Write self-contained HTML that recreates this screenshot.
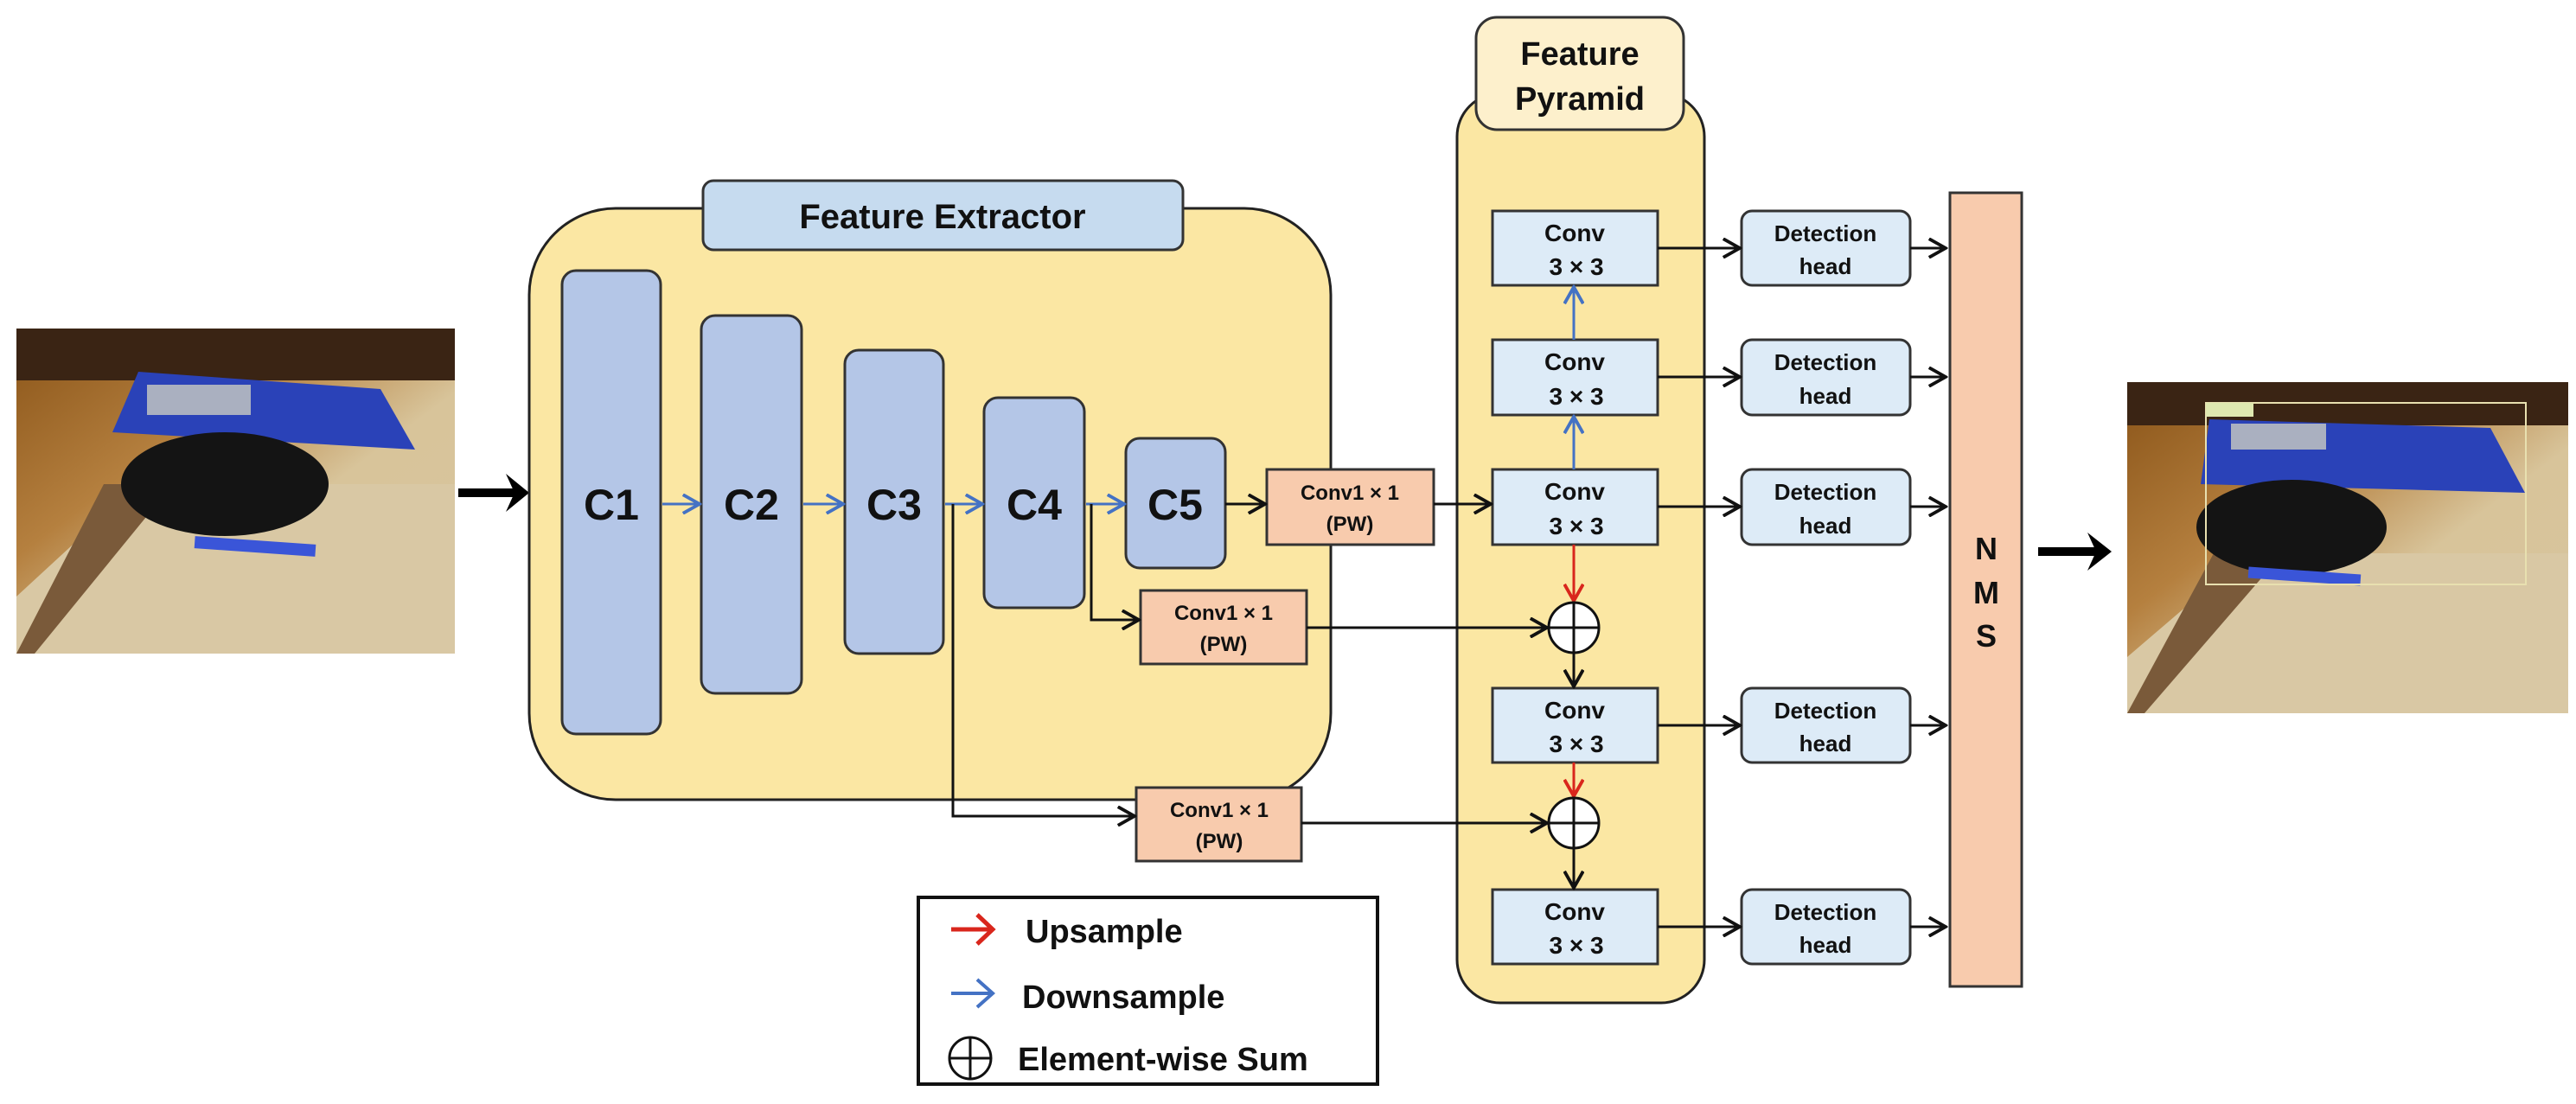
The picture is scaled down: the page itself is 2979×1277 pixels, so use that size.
<!DOCTYPE html>
<html><head><meta charset="utf-8"><style>
html,body{margin:0;padding:0;background:#fff;}
svg{display:block;}
text{font-family:"Liberation Sans",sans-serif;font-weight:bold;fill:#111;}
</style></head><body>
<svg width="2979" height="1277" viewBox="0 0 2979 1277" xmlns="http://www.w3.org/2000/svg">
<defs>
<marker id="ak" markerWidth="24" markerHeight="24" refX="9" refY="5" orient="auto" markerUnits="userSpaceOnUse" viewBox="0 0 10 10"><path d="M1,0.5 L9,5 L1,9.5" fill="none" stroke="#111" stroke-width="1.6"/></marker>
<marker id="ab" markerWidth="24" markerHeight="24" refX="9" refY="5" orient="auto" markerUnits="userSpaceOnUse" viewBox="0 0 10 10"><path d="M1,0.5 L9,5 L1,9.5" fill="none" stroke="#4472c4" stroke-width="1.6"/></marker>
<marker id="ar" markerWidth="24" markerHeight="24" refX="9" refY="5" orient="auto" markerUnits="userSpaceOnUse" viewBox="0 0 10 10"><path d="M1,0.5 L9,5 L1,9.5" fill="none" stroke="#d9261c" stroke-width="1.6"/></marker>
<linearGradient id="floor" x1="0" y1="0" x2="1" y2="1"><stop offset="0" stop-color="#8a5418"/><stop offset="0.35" stop-color="#b5803f"/><stop offset="0.6" stop-color="#d8c49a"/><stop offset="1" stop-color="#d6c39e"/></linearGradient>
</defs>

<g>
<rect x="19" y="380" width="507" height="376" fill="url(#floor)"/>
<rect x="19" y="380" width="507" height="60" fill="#3a2414"/>
<polygon points="19,756 19,690 160,560 526,560 526,756" fill="#d9c8a4"/>
<polygon points="120,560 200,560 40,756 19,756" fill="#7a5a3a"/>
<polygon points="160,430 440,450 480,520 130,500" fill="#2a42b8"/>
<rect x="170" y="445" width="120" height="35" fill="#aab0c0"/>
<ellipse cx="260" cy="560" rx="120" ry="60" fill="#141414"/>
<rect x="225" y="625" width="140" height="14" fill="#3a55d8" transform="rotate(4 295 632)"/>
</g>
<line x1="530" y1="570" x2="600" y2="570" stroke="#000" stroke-width="10"/>
<polygon points="585,548 612,570 585,592 595,570" fill="#000"/>

<rect x="612" y="241" width="927" height="684" rx="100" fill="#fbe7a3" stroke="#222" stroke-width="3"/>
<rect x="813" y="209" width="555" height="80" rx="12" fill="#c6dbef" stroke="#333" stroke-width="3"/>
<text x="1090" y="264" font-size="40" text-anchor="middle">Feature Extractor</text>

<g fill="#b4c6e7" stroke="#333" stroke-width="3">
<rect x="650" y="313" width="114" height="536" rx="16"/>
<rect x="811" y="365" width="116" height="437" rx="16"/>
<rect x="977" y="405" width="114" height="351" rx="16"/>
<rect x="1138" y="460" width="116" height="243" rx="16"/>
<rect x="1302" y="507" width="115" height="150" rx="16"/>
</g>
<g font-size="50" text-anchor="middle">
<text x="707" y="601">C1</text><text x="869" y="601">C2</text><text x="1034" y="601">C3</text><text x="1196" y="601">C4</text><text x="1359" y="601">C5</text>
</g>
<g stroke="#4472c4" stroke-width="3">
<line x1="766" y1="583" x2="809" y2="583" marker-end="url(#ab)"/>
<line x1="929" y1="583" x2="975" y2="583" marker-end="url(#ab)"/>
<line x1="1093" y1="583" x2="1136" y2="583" marker-end="url(#ab)"/>
<line x1="1256" y1="583" x2="1300" y2="583" marker-end="url(#ab)"/>
</g>

<g fill="#f8cbad" stroke="#333" stroke-width="3">
<rect x="1465" y="543" width="193" height="87"/>
<rect x="1319" y="683" width="192" height="85"/>
<rect x="1314" y="911" width="191" height="85"/>
</g>
<g font-size="24" text-anchor="middle">
<text x="1561" y="578">Conv1 × 1</text><text x="1561" y="614">(PW)</text>
<text x="1415" y="717">Conv1 × 1</text><text x="1415" y="753">(PW)</text>
<text x="1410" y="945">Conv1 × 1</text><text x="1410" y="981">(PW)</text>
</g>

<rect x="1685" y="108" width="286" height="1052" rx="50" fill="#fbe7a3" stroke="#222" stroke-width="3"/>
<rect x="1707" y="20" width="240" height="130" rx="24" fill="#fdf0cc" stroke="#333" stroke-width="3"/>
<text x="1827" y="75" font-size="38" text-anchor="middle">Feature</text>
<text x="1827" y="127" font-size="38" text-anchor="middle">Pyramid</text>

<g fill="#ddebf7" stroke="#333" stroke-width="3">
<rect x="1726" y="244" width="191" height="86"/>
<rect x="1726" y="393" width="191" height="87"/>
<rect x="1726" y="543" width="191" height="87"/>
<rect x="1726" y="796" width="191" height="86"/>
<rect x="1726" y="1029" width="191" height="86"/>
</g>
<g font-size="28" text-anchor="middle">
<text x="1821" y="279">Conv</text><text x="1823" y="318">3 × 3</text>
<text x="1821" y="428">Conv</text><text x="1823" y="468">3 × 3</text>
<text x="1821" y="578">Conv</text><text x="1823" y="618">3 × 3</text>
<text x="1821" y="831">Conv</text><text x="1823" y="870">3 × 3</text>
<text x="1821" y="1064">Conv</text><text x="1823" y="1103">3 × 3</text>
</g>

<g fill="#ddebf7" stroke="#333" stroke-width="3">
<rect x="2014" y="244" width="195" height="86" rx="12"/>
<rect x="2014" y="393" width="195" height="87" rx="12"/>
<rect x="2014" y="543" width="195" height="87" rx="12"/>
<rect x="2014" y="796" width="195" height="86" rx="12"/>
<rect x="2014" y="1029" width="195" height="86" rx="12"/>
</g>
<g font-size="26" text-anchor="middle">
<text x="2111" y="279">Detection</text><text x="2111" y="317">head</text>
<text x="2111" y="428">Detection</text><text x="2111" y="467">head</text>
<text x="2111" y="578">Detection</text><text x="2111" y="617">head</text>
<text x="2111" y="831">Detection</text><text x="2111" y="869">head</text>
<text x="2111" y="1064">Detection</text><text x="2111" y="1102">head</text>
</g>

<rect x="2255" y="223" width="83" height="918" fill="#f8cbad" stroke="#333" stroke-width="3"/>
<g font-size="36" text-anchor="middle">
<text x="2297" y="647">N</text><text x="2297" y="698">M</text><text x="2297" y="748">S</text>
</g>

<g stroke="#111" stroke-width="3" fill="none">
<line x1="1417" y1="583" x2="1463" y2="583" marker-end="url(#ak)"/>
<line x1="1658" y1="583" x2="1724" y2="583" marker-end="url(#ak)"/>
<polyline points="1262,583 1262,717 1317,717" marker-end="url(#ak)"/>
<polyline points="1102,583 1102,944 1312,944" marker-end="url(#ak)"/>
<line x1="1511" y1="726" x2="1789" y2="726" marker-end="url(#ak)"/>
<line x1="1505" y1="952" x2="1789" y2="952" marker-end="url(#ak)"/>
<line x1="1820" y1="755" x2="1820" y2="794" marker-end="url(#ak)"/>
<line x1="1820" y1="981" x2="1820" y2="1027" marker-end="url(#ak)"/>
<line x1="1917" y1="287" x2="2012" y2="287" marker-end="url(#ak)"/>
<line x1="1917" y1="436" x2="2012" y2="436" marker-end="url(#ak)"/>
<line x1="1917" y1="586" x2="2012" y2="586" marker-end="url(#ak)"/>
<line x1="1917" y1="839" x2="2012" y2="839" marker-end="url(#ak)"/>
<line x1="1917" y1="1072" x2="2012" y2="1072" marker-end="url(#ak)"/>
<line x1="2209" y1="287" x2="2250" y2="287" marker-end="url(#ak)"/>
<line x1="2209" y1="436" x2="2250" y2="436" marker-end="url(#ak)"/>
<line x1="2209" y1="586" x2="2250" y2="586" marker-end="url(#ak)"/>
<line x1="2209" y1="839" x2="2250" y2="839" marker-end="url(#ak)"/>
<line x1="2209" y1="1072" x2="2250" y2="1072" marker-end="url(#ak)"/>
</g>
<g stroke="#4472c4" stroke-width="3">
<line x1="1820" y1="543" x2="1820" y2="482" marker-end="url(#ab)"/>
<line x1="1820" y1="393" x2="1820" y2="332" marker-end="url(#ab)"/>
</g>
<g stroke="#d9261c" stroke-width="3">
<line x1="1820" y1="630" x2="1820" y2="695" marker-end="url(#ar)"/>
<line x1="1820" y1="882" x2="1820" y2="921" marker-end="url(#ar)"/>
</g>
<g stroke="#111" stroke-width="3" fill="#fff">
<circle cx="1820" cy="726" r="29"/><circle cx="1820" cy="952" r="29"/>
<line x1="1791" y1="726" x2="1849" y2="726"/><line x1="1820" y1="697" x2="1820" y2="755"/>
<line x1="1791" y1="952" x2="1849" y2="952"/><line x1="1820" y1="923" x2="1820" y2="981"/>
</g>

<line x1="2357" y1="638" x2="2428" y2="638" stroke="#000" stroke-width="10"/>
<polygon points="2414,616 2442,638 2414,660 2424,638" fill="#000"/>

<g>
<rect x="2460" y="442" width="510" height="383" fill="url(#floor)"/>
<rect x="2460" y="442" width="510" height="50" fill="#3a2414"/>
<polygon points="2460,825 2460,760 2600,640 2970,640 2970,825" fill="#d9c8a4"/>
<polygon points="2560,640 2640,640 2480,825 2460,825" fill="#7a5a3a"/>
<polygon points="2555,485 2880,495 2920,570 2545,560" fill="#2a42b8"/>
<rect x="2580" y="490" width="110" height="30" fill="#aab0c0"/>
<ellipse cx="2650" cy="610" rx="110" ry="55" fill="#141414"/>
<rect x="2600" y="660" width="130" height="13" fill="#3a55d8" transform="rotate(4 2665 666)"/>
<rect x="2551" y="466" width="370" height="210" fill="none" stroke="#e8e0b0" stroke-width="2"/>
<rect x="2551" y="466" width="55" height="16" fill="#dfe8b0"/>
</g>

<rect x="1062" y="1038" width="531" height="216" fill="#fff" stroke="#111" stroke-width="4"/>
<g stroke="#d9261c" stroke-width="5" fill="none"><line x1="1100" y1="1075" x2="1145" y2="1075"/><polyline points="1130,1058 1148,1075 1130,1092"/></g>
<g stroke="#4472c4" stroke-width="4" fill="none"><line x1="1100" y1="1149" x2="1145" y2="1149"/><polyline points="1130,1133 1148,1149 1130,1165"/></g>
<g stroke="#111" stroke-width="3" fill="none"><circle cx="1122" cy="1224" r="24"/><line x1="1098" y1="1224" x2="1146" y2="1224"/><line x1="1122" y1="1200" x2="1122" y2="1248"/></g>
<text x="1186" y="1090" font-size="38">Upsample</text>
<text x="1182" y="1166" font-size="38">Downsample</text>
<text x="1177" y="1238" font-size="38">Element-wise Sum</text>
</svg>
</body></html>
